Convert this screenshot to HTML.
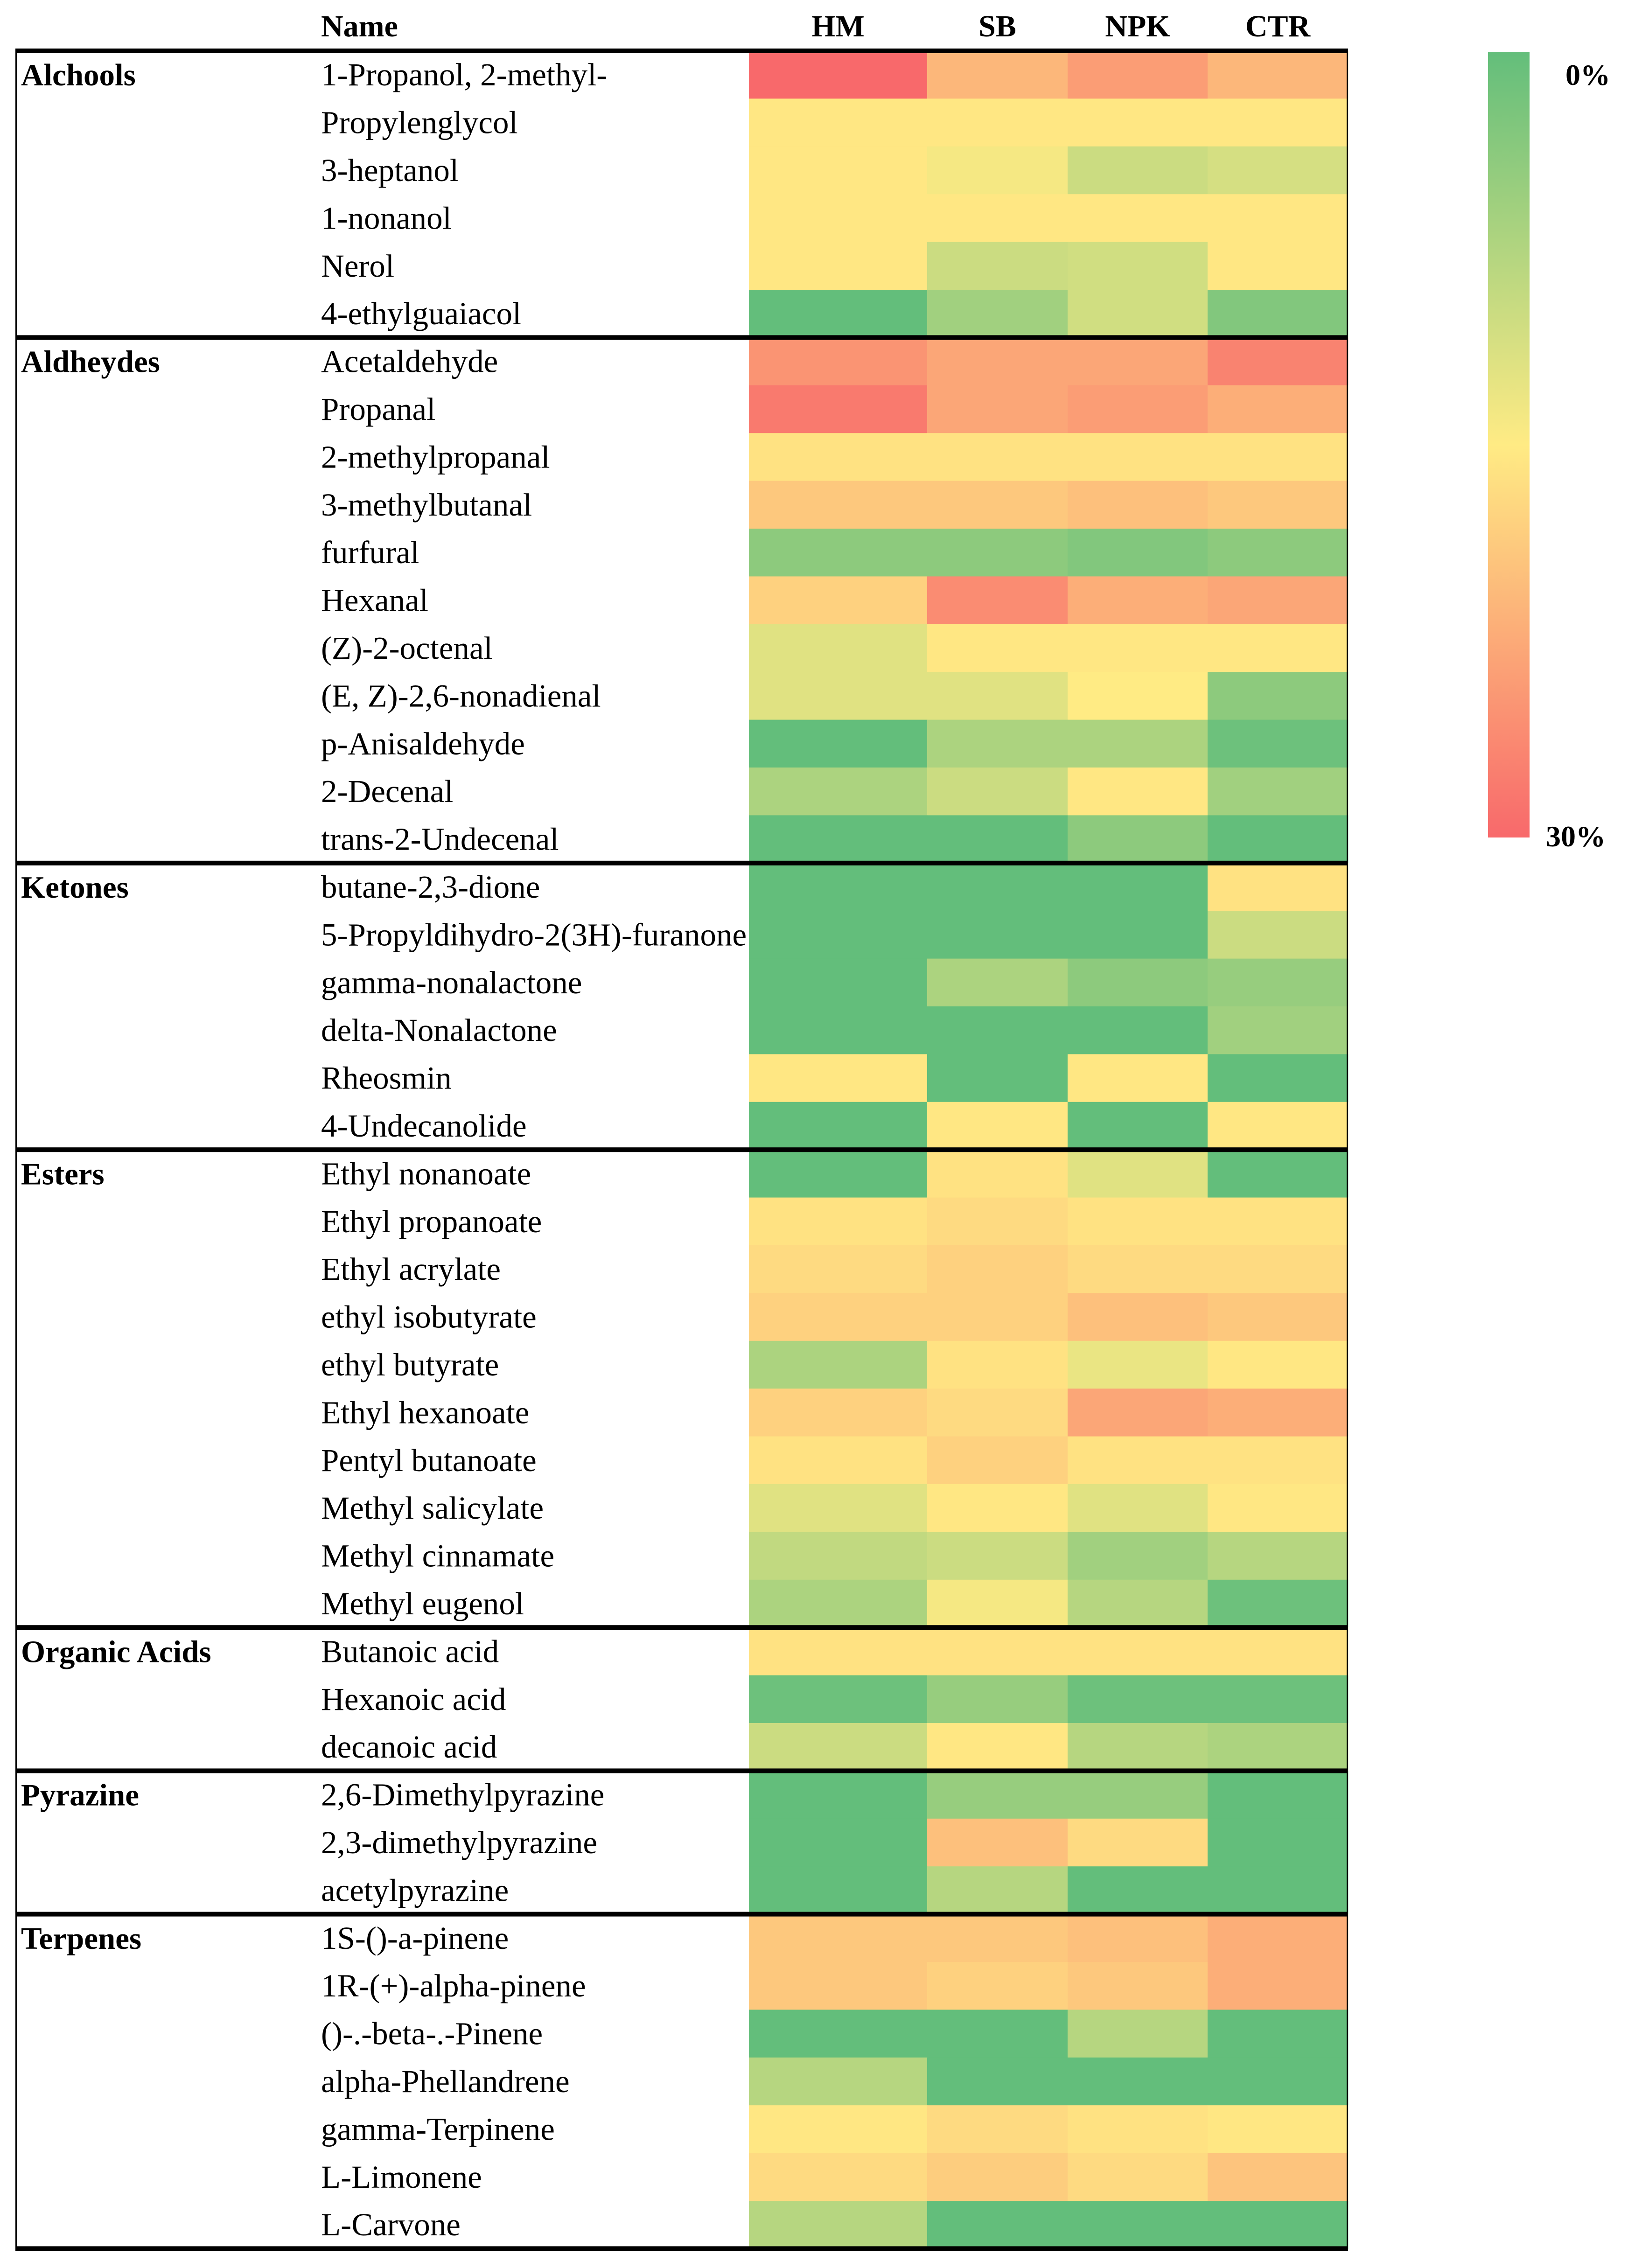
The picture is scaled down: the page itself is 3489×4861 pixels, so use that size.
<!DOCTYPE html>
<html><head><meta charset="utf-8"><style>
html,body{margin:0;padding:0;background:#fff;}
svg{display:block;}
text{font-family:"Liberation Serif",serif;}
</style></head><body>
<svg id="chart" width="3489" height="4861" viewBox="0 0 3489 4861" xmlns="http://www.w3.org/2000/svg">
<defs><linearGradient id="cb" x1="0" y1="0" x2="0" y2="1">
<stop offset="0" stop-color="#63BE7B"/><stop offset="0.5" stop-color="#FFEB84"/><stop offset="1" stop-color="#F8696B"/></linearGradient></defs>
<g id="texts"></g><g id="cells"></g><g id="lines"></g>
<rect x="3189" y="111" width="89" height="1684" fill="url(#cb)"/>
<text x="3355" y="182" font-size="64" font-weight="bold">0%</text>
<text x="3313" y="1814" font-size="64" font-weight="bold">30%</text>
</svg>
<script>
const columns = ["HM","SB","NPK","CTR"];
const groups = ["Alchools","Aldheydes","Ketones","Esters","Organic Acids","Pyrazine","Terpenes"];
const groupSizes = [6,11,6,10,3,3,7];
const compounds = ["1-Propanol, 2-methyl-","Propylenglycol","3-heptanol","1-nonanol","Nerol","4-ethylguaiacol",
"Acetaldehyde","Propanal","2-methylpropanal","3-methylbutanal","furfural","Hexanal","(Z)-2-octenal","(E, Z)-2,6-nonadienal","p-Anisaldehyde","2-Decenal","trans-2-Undecenal",
"butane-2,3-dione","5-Propyldihydro-2(3H)-furanone","gamma-nonalactone","delta-Nonalactone","Rheosmin","4-Undecanolide",
"Ethyl nonanoate","Ethyl propanoate","Ethyl acrylate","ethyl isobutyrate","ethyl butyrate","Ethyl hexanoate","Pentyl butanoate","Methyl salicylate","Methyl cinnamate","Methyl eugenol",
"Butanoic acid","Hexanoic acid","decanoic acid",
"2,6-Dimethylpyrazine","2,3-dimethylpyrazine","acetylpyrazine",
"1S-()-a-pinene","1R-(+)-alpha-pinene","()-.-beta-.-Pinene","alpha-Phellandrene","gamma-Terpinene","L-Limonene","L-Carvone"];
const valuesHM  = [30,15.5,15.5,15.5,15.5,0, 25,28,16,19,4,18,12,12,0,7,0, 0,0,0,0,15.5,0, 0,16,17,18,7,18,16,12,9,7, 16,1,10, 0,0,0, 19,19,0,8,15.5,17,8];
const valuesSB  = [21,15.5,14,15.5,10,6, 23,23,16,19,4,26,15.5,12,7,10,0, 0,0,7,0,0,15.5, 16,17,18,18,16,17,18,15.5,10,14, 16,5,15.5, 5,20,8, 19,18,0,0,17,18.5,0];
const valuesNPK = [24,15.5,10,15.5,10.5,10.5, 23,24,16,20,3,22,15.5,15,7,15.5,4, 0,0,4,0,15.5,0, 12,16,17,20,13,23,16,12,6,8, 16,1,8, 5,17,0, 20,19,8,0,16,17,0];
const valuesCTR = [21,15.5,11,15.5,15.5,3, 27,22,16,19,4,23,15.5,4,1,6,0, 16,10,5,6,0,15.5, 0,16,17,19,15.5,22,16,15.5,8,1, 16,1,7, 0,0,0, 22,22,0,0,15.5,19.5,0];
const series = [valuesHM,valuesSB,valuesNPK,valuesCTR];

const NS="http://www.w3.org/2000/svg";
const T=document.getElementById('texts'),C=document.getElementById('cells'),L=document.getElementById('lines');
const top0=109,rowH=102.4,colX=[1605,1987,2288,2588,2889];
const yOf=i=>top0+i*rowH;
function lerp(a,b,t){return a.map((v,k)=>Math.round(v+(b[k]-v)*t));}
function colorOf(v){const g=[99,190,123],y=[255,235,132],r=[248,105,107];
 const t=Math.max(0,Math.min(30,v))/30;return 'rgb('+(t<=.5?lerp(g,y,t*2):lerp(y,r,(t-.5)*2)).join(',')+')';}
function mk(tag,attrs,parent){const e=document.createElementNS(NS,tag);for(const k in attrs)e.setAttribute(k,attrs[k]);parent.appendChild(e);return e;}

let h=mk('text',{x:688,y:78,'font-size':66,'font-weight':'bold'},T);h.textContent='Name';


columns.forEach((c,j)=>{const t=mk('text',{x:(colX[j]+colX[j+1])/2,y:78,'font-size':66,'font-weight':'bold','text-anchor':'middle'},T);t.textContent=c;
 
 });

compounds.forEach((n,i)=>{const t=mk('text',{x:688,y:yOf(i)+rowH/2+23,'font-size':69},T);t.textContent=n;
 
 
 series.forEach((s,j)=>{const r=mk('rect',{x:colX[j],y:yOf(i),width:colX[j+1]-colX[j]+0.5,height:rowH+0.5,fill:colorOf(s[i])},C);
  
  });});

let start=0;
const bounds=[0];
groups.forEach((g,k)=>{const t=mk('text',{x:45,y:yOf(start)+rowH/2+23,'font-size':67,'font-weight':'bold'},T);t.textContent=g;
 
 
 start+=groupSizes[k];bounds.push(start);});
bounds.forEach(b=>{const l=mk('rect',{x:33,y:yOf(b)-5,width:2856,height:10,fill:'#000'},L);
 
 });
const bottom=yOf(start);
[33,2886].forEach(x=>{const l=mk('rect',{x:x,y:top0,width:3,height:bottom-top0,fill:'#000'},L);
 
 });
</script>
</body></html>
